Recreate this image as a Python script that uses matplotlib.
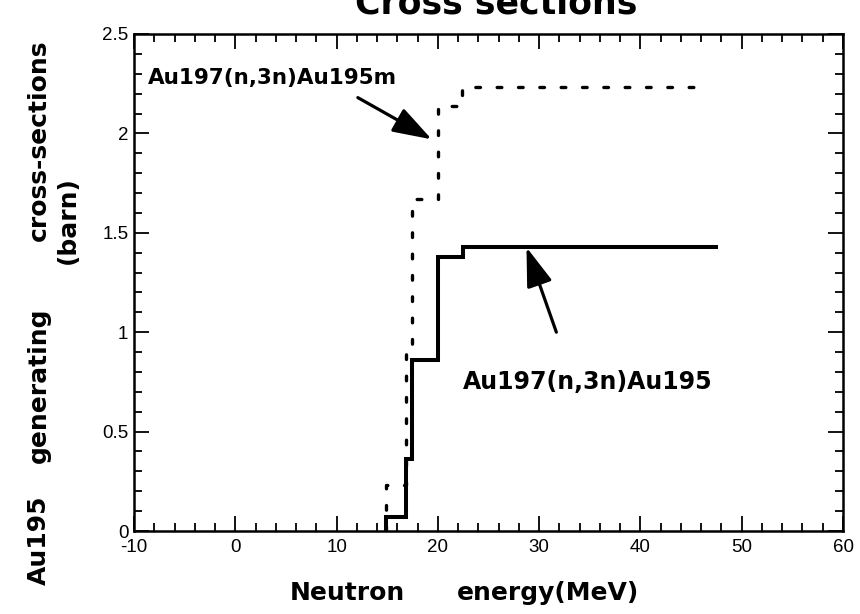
import matplotlib
matplotlib.use("Agg")
import matplotlib.pyplot as plt
from matplotlib.ticker import MultipleLocator, FuncFormatter

# ---- data ----
au195_energy = [14.9, 14.9, 16.9, 17.4, 20.0, 22.5, 47.5]
au195_xs = [0.0, 0.07, 0.36, 0.86, 1.38, 1.43, 1.43]

au195m_energy = [14.9, 14.9, 16.9, 17.4, 20.0, 22.4, 46.6]
au195m_xs = [0.0, 0.23, 0.90, 1.67, 2.14, 2.235, 2.235]

x_ticks = [-10, 0, 10, 20, 30, 40, 50, 60]
y_ticks = [0, 0.5, 1, 1.5, 2, 2.5]

label_m = "Au197(n,3n)Au195m"
label_g = "Au197(n,3n)Au195"
title_text = "Cross sections"
xlabel_words = ["Neutron", "energy(MeV)"]
ylabel_words = ["Au195", "generating", "cross-sections"]
ylabel_line2 = "(barn)"

W, H = 860, 614
fig = plt.figure(figsize=(W / 100, H / 100), dpi=100)
ax = fig.add_axes([134 / W, 1 - 531 / H, (843 - 134) / W, (531 - 34) / H])

ax.step(au195_energy, au195_xs, where="post", color="black", lw=2.9,
        solid_joinstyle="miter")
ax.step(au195m_energy, au195m_xs, where="post", color="black", lw=2.4,
        linestyle=(0, (1.4, 5.0)), dash_capstyle="round")

ax.set_xlim(-10, 60)
ax.set_ylim(0, 2.5)
ax.set_xticks(x_ticks)
ax.set_yticks(y_ticks)
ax.xaxis.set_minor_locator(MultipleLocator(2))
ax.yaxis.set_minor_locator(MultipleLocator(0.1))
fmt = FuncFormatter(lambda v, p: "%g" % v)
ax.xaxis.set_major_formatter(fmt)
ax.yaxis.set_major_formatter(fmt)
ax.tick_params(which="both", direction="in", top=True, right=True, width=1.3)
ax.tick_params(which="major", length=11, labelsize=13.5)
ax.tick_params(axis="x", which="major", pad=6)
ax.tick_params(axis="y", which="major", pad=4)
for lab in ax.get_xticklabels() + ax.get_yticklabels():
    lab.set_family("Liberation Sans")
ax.tick_params(which="minor", length=6)
for s in ax.spines.values():
    s.set_linewidth(1.8)

bold = dict(family="DejaVu Sans", weight="bold")

ax.text(-8.6, 2.28, label_m, fontsize=15.5, va="center", ha="left", **bold)
ax.text(22.5, 0.75, label_g, fontsize=17, va="center", ha="left", **bold)

arrow = dict(arrowstyle="-|>,head_length=1.5,head_width=0.5", color="black",
             lw=2.3, mutation_scale=16, shrinkA=0, shrinkB=0)
ax.annotate("", xy=(19.4, 1.97), xytext=(12.1, 2.18), arrowprops=arrow)
ax.annotate("", xy=(28.75, 1.427), xytext=(31.7, 1.00), arrowprops=arrow)

fig.text(496 / W, 1 - 14 / H, title_text, ha="center", va="baseline",
         fontsize=25, **bold)

# x label, word by word at the reference positions
xl_centers = [347, 548]
for word, cx in zip(xlabel_words, xl_centers):
    fig.text(cx / W, 1 - 600 / H, word, ha="center", va="baseline",
             fontsize=18, **bold)

# y label, word by word (rotated; baseline on the right side)
yl_centers = [540, 385, 140]
for word, cy in zip(ylabel_words, yl_centers):
    fig.text(46 / W, 1 - cy / H, word, ha="center", va="baseline",
             rotation=90, rotation_mode="anchor", fontsize=18, **bold)
fig.text(75 / W, 1 - 220 / H, ylabel_line2, ha="center", va="baseline",
         rotation=90, rotation_mode="anchor", fontsize=18, **bold)

fig.savefig("out.png", dpi=100)
